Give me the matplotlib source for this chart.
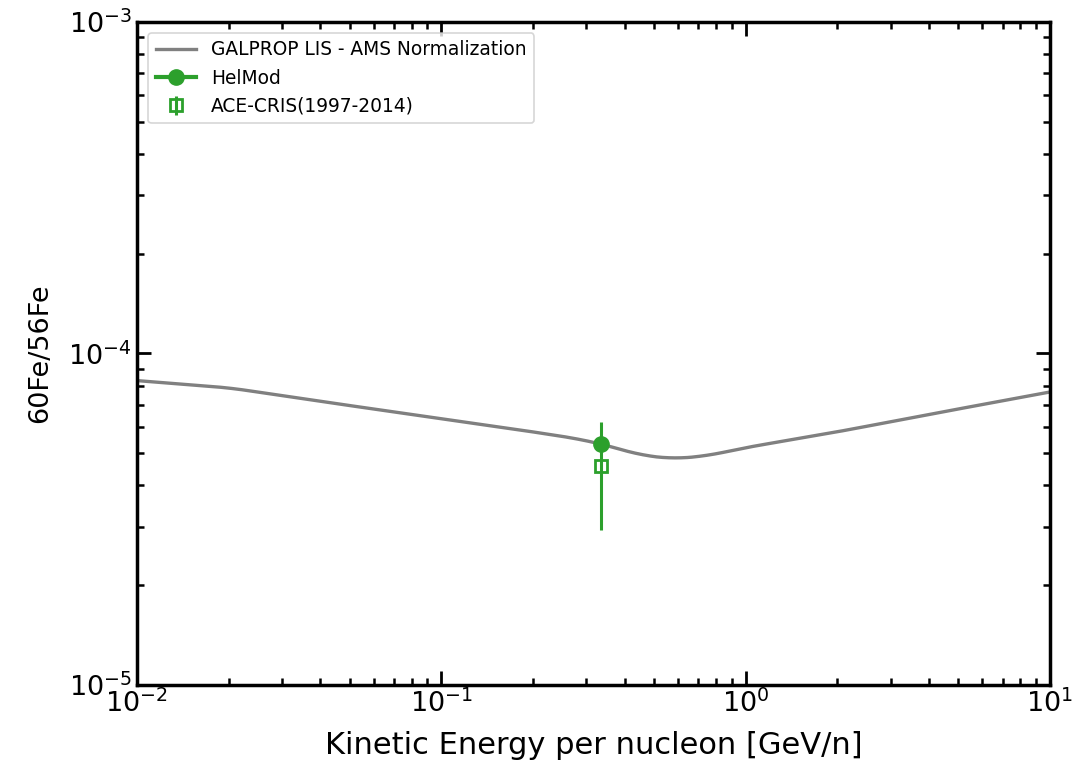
import matplotlib
matplotlib.use("Agg")
import matplotlib.pyplot as plt
import numpy as np

# GALPROP LIS curve
lis_energy = [0.01, 0.0202, 0.0431, 0.107, 0.164, 0.271, 0.337, 0.450, 0.577, 0.746, 1.0, 2.04, 4.35, 10.0]
lis_ratio = [8.28e-5, 7.87e-5, 7.10e-5, 6.30e-5, 5.96e-5, 5.56e-5, 5.33e-5, 4.94e-5, 4.81e-5, 4.91e-5, 5.20e-5, 5.82e-5, 6.64e-5, 7.65e-5]

# HelMod modulated value
helmod_energy = [0.335]
helmod_ratio = [5.33e-5]

# ACE-CRIS data
ace_energy = [0.335]
ace_ratio = [4.58e-5]
ace_err = [1.65e-5]

fig = plt.figure(figsize=(10.78, 7.75), dpi=100)
ax = fig.add_axes([0.127, 0.116, 0.847, 0.856])

# smooth the LIS curve in log space
lx = np.log10(lis_energy)
ly = np.log10(lis_ratio)
xs = np.linspace(lx[0], lx[-1], 600)
ys = np.interp(xs, lx, ly)
k = 12
ysm = np.convolve(np.pad(ys, k, mode='reflect', reflect_type='odd'), np.ones(2 * k + 1) / (2 * k + 1), mode='same')[k:-k]
ax.plot(10 ** xs, 10 ** ysm, color='gray', lw=2.4, label='GALPROP LIS - AMS Normalization')

ax.plot(helmod_energy, helmod_ratio, color='#2ca02c', marker='o', markersize=11, lw=3,
        label='HelMod', zorder=5)
ax.errorbar(ace_energy, ace_ratio, yerr=ace_err, fmt='s', color='#2ca02c', mfc='none',
            markersize=9, mew=2, elinewidth=2.2, capsize=0, label='ACE-CRIS(1997-2014)', zorder=4)

ax.set_xscale('log')
ax.set_yscale('log')
ax.set_xlim(1e-2, 1e1)
ax.set_ylim(1e-5, 1e-3)

ax.set_xlabel('Kinetic Energy per nucleon [GeV/n]', fontsize=22, labelpad=9)
ax.set_ylabel('60Fe/56Fe', fontsize=19.5, labelpad=11)

ax.tick_params(which='both', direction='in', top=True, right=True, labelsize=19.5)
ax.tick_params(which='major', length=10, width=2)
ax.tick_params(which='minor', length=5, width=1.8)
for s in ax.spines.values():
    s.set_linewidth(2.5)

leg = ax.legend(loc='upper left', fontsize=13.4, frameon=True, fancybox=True,
                edgecolor='#cccccc', borderaxespad=0.6, handlelength=2.2)
leg.get_frame().set_linewidth(1.2)

fig.savefig('out.png', dpi=100)
